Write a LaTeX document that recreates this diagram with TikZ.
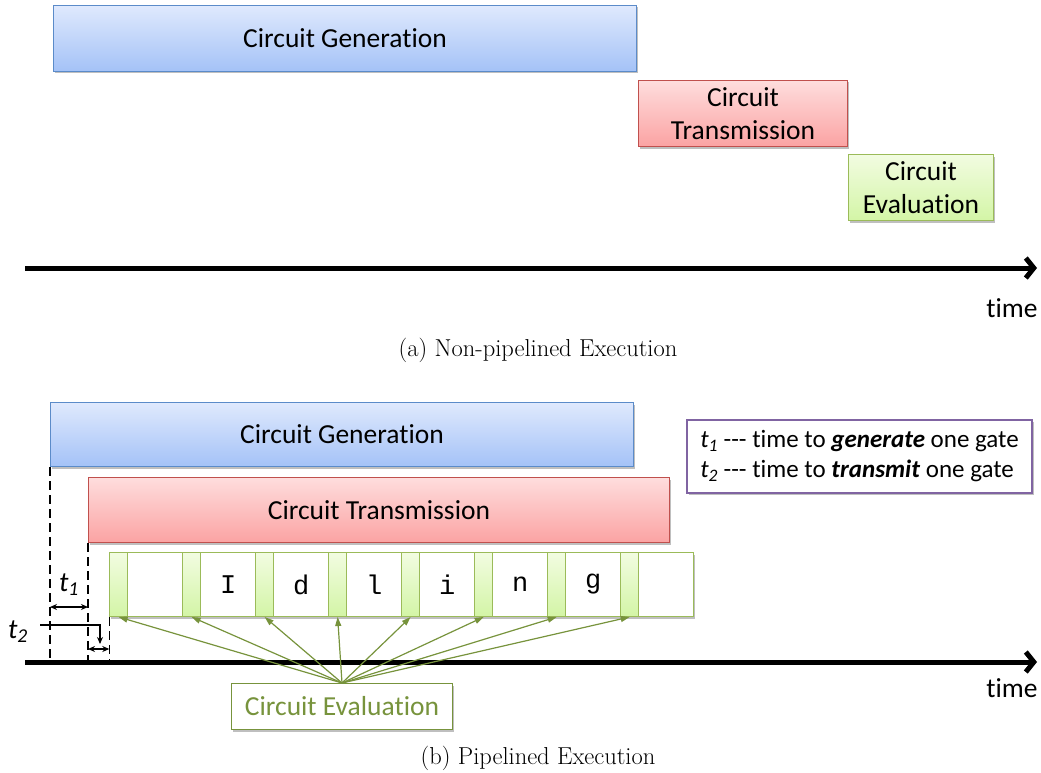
\documentclass[tikz,border=0pt]{standalone}
\usepackage{fontspec}
\newfontfamily\calibri[Ligatures={NoCommon}]{Carlito}
\newfontfamily\monofont{Liberation Mono}
\usetikzlibrary{arrows.meta,shadows}

\definecolor{blueT}{HTML}{DFE9FD}
\definecolor{blueB}{HTML}{A4C2F7}
\definecolor{blueD}{HTML}{5B8BC9}
\definecolor{redT}{HTML}{FEDDDD}
\definecolor{redB}{HTML}{FBA3A3}
\definecolor{redD}{HTML}{C0504D}
\definecolor{grnT}{HTML}{F2FCE1}
\definecolor{grnB}{HTML}{D3F5A6}
\definecolor{grnD}{HTML}{9BBB59}
\definecolor{olive}{HTML}{77933C}
\definecolor{legendD}{HTML}{8064A2}

\tikzset{
  box/.style={draw, line width=1pt, anchor=north west, inner sep=0pt,
    align=center, font=\calibri\fontsize{27.5}{33}\selectfont,
    drop shadow={shadow xshift=1.5pt, shadow yshift=-2pt, opacity=0.25, fill=black}},
  genbox/.style={box, top color=blueT, bottom color=blueB, draw=blueD},
  transbox/.style={box, top color=redT, bottom color=redB, draw=redD},
  evalbox/.style={box, top color=grnT, bottom color=grnB, draw=grnD},
  gcell/.style={box, top color=grnT, bottom color=grnB, draw=grnD,
    minimum width=17.7pt, minimum height=64pt},
  wcell/.style={box, fill=white, draw=grnD, minimum width=55.3pt, minimum height=64pt,
    font=\monofont\fontsize{27}{30}\selectfont},
  timeaxis/.style={line width=5pt, -{Straight Barb[length=8pt,width=20pt]}},
  guide/.style={line width=1.3pt, dash pattern=on 9pt off 5pt},
  span/.style={line width=1.2pt, {Stealth[length=7pt,width=6pt]}-{Stealth[length=7pt,width=6pt]}},
  evarrow/.style={draw=olive, line width=1.2pt, -{Triangle[length=9pt,width=6pt]}},
  txt/.style={font=\calibri\fontsize{27.5}{33}\selectfont, inner sep=0pt},
  tlabel/.style={font=\calibri\itshape\fontsize{28}{30}\selectfont, inner sep=0pt},
  caption/.style={font=\fontsize{24.5}{29}\selectfont, inner sep=0pt}
}

\begin{document}
\begin{tikzpicture}[x=1pt, y=-1pt]
\useasboundingbox (0,0) rectangle (1041,773);

% ---- non-pipelined execution ----
\node[genbox, minimum width=583pt, minimum height=66pt] (gen1) at (53,5) {Circuit Generation};
\node[transbox, minimum width=209pt, minimum height=66pt] (tr1) at (638,80) {Circuit\\Transmission};
\node[evalbox, minimum width=145pt, minimum height=66pt] (ev1) at (848,154) {Circuit\\Evaluation};

\coordinate (ax1L) at (25,268);
\coordinate (ax1R) at (1037,268);
\draw[timeaxis] (ax1L) -- (ax1R);
\node[txt] (time1) at (1012,308) {time};

\node[caption] (capa) at (538,350) {(a) Non-pipelined Execution};

% ---- pipelined execution ----
\node[genbox, minimum width=583pt, minimum height=64pt] (gen2) at (50,402) {Circuit Generation};
\node[transbox, minimum width=581pt, minimum height=65pt] (tr2) at (88,477) {Circuit Transmission};

\node[box, fill=white, draw=legendD, line width=2pt, minimum width=345pt, minimum height=73pt,
  align=left, font=\calibri\fontsize{25}{30}\selectfont] (legend) at (686,419)
  {{\itshape t\textsubscript{1}} -{}-{}- time to \textbf{\textit{generate}} one gate\\
   {\itshape t\textsubscript{2}} -{}-{}- time to \textbf{\textit{transmit}} one gate};

% gate slots: a short evaluation slot followed by an idle slot
\foreach \k/\ch in {0/{},1/I,2/d,3/l,4/i,5/n,6/g,7/{}} {
  \node[gcell] (g\k) at ({109.3+73*\k},552) {};
  \node[wcell] (w\k) at ({127+73*\k},552) {\ch};
}

\coordinate (ax2L) at (25,662);
\coordinate (ax2R) at (1037,662);

% guide lines down to the time axis
\draw[guide] (gen2.south west) -- (gen2.south west |- ax2L);
\draw[guide] (tr2.south west) -- (tr2.south west |- ax2L);
\draw[guide] (g0.south west) -- (g0.south west |- ax2L);

\draw[timeaxis] (ax2L) -- (ax2R);
\node[txt] (time2) at (1012,688) {time};

% t1 and t2 spans
\coordinate (t1a) at (50,607);
\coordinate (t1b) at (88,607);
\draw[span] (t1a) -- (t1b);
\node[tlabel] (t1) at (69,585) {t\textsubscript{1}};

\coordinate (t2s) at (40,625);
\coordinate (t2k) at (100,625);
\coordinate (t2e) at (100,644);
\draw[line width=1.2pt, -{Stealth[length=7pt,width=6pt]}] (t2s) -- (t2k) -- (t2e);
\coordinate (t2a) at (88,649);
\coordinate (t2b) at (109.3,649);
\draw[span] (t2a) -- (t2b);
\node[tlabel] (t2) at (18,632) {t\textsubscript{2}};

% evaluation label and its arrows
\node[box, fill=white, draw=olive, text=olive, minimum width=221pt, minimum height=46pt,
  drop shadow={opacity=0}] (evl) at (231,683) {Circuit Evaluation};
\foreach \k in {0,...,7} {
  \draw[evarrow] (evl.north) -- (g\k.south);
}

\node[caption] (capb) at (538,758) {(b) Pipelined Execution};
\end{tikzpicture}
\end{document}
